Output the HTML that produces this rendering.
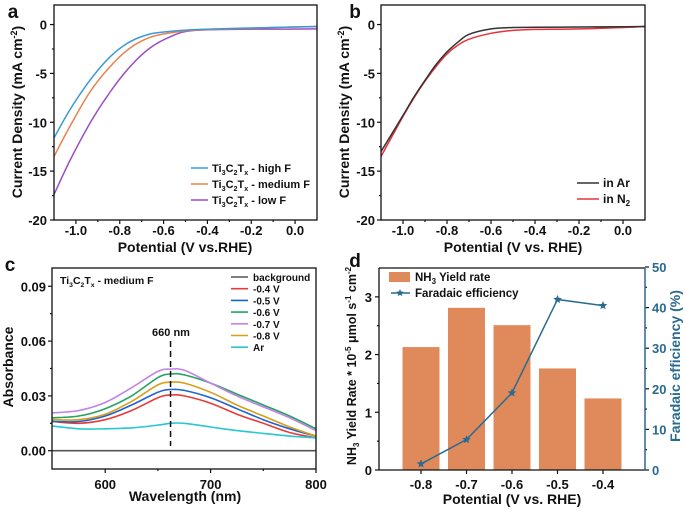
<!DOCTYPE html>
<html><head><meta charset="utf-8"><style>
body{margin:0;background:#fff}
svg{display:block;font-family:"Liberation Sans",Arial,sans-serif;font-weight:bold}
</style></head><body>
<svg id="fig" width="685" height="513" viewBox="0 0 685 513" xmlns="http://www.w3.org/2000/svg"></svg>
<script>
// ---- data panel a ----
const aX=[-1.1,-1.027,-0.936,-0.844,-0.753,-0.662,-0.57,-0.48,-0.3,-0.1,0.1];
const aHigh=[-11.6,-8.7,-5.7,-3.3,-1.76,-0.97,-0.7,-0.55,-0.4,-0.3,-0.2];
const aMed=[-13.5,-10.4,-6.9,-4.3,-2.4,-1.3,-0.85,-0.6,-0.45,-0.3,-0.2];
const aLow=[-17.4,-13.9,-10.1,-6.9,-4.3,-2.4,-1.25,-0.65,-0.5,-0.47,-0.45];
// ---- data panel b ----
const bX=[-1.1,-1.0,-0.95,-0.9,-0.85,-0.8,-0.75,-0.7,-0.6,-0.5,-0.4,-0.2,0.0,0.1];
const bAr=[-13.0,-9.3,-7.4,-5.7,-4.1,-2.8,-1.8,-1.0,-0.45,-0.3,-0.28,-0.25,-0.22,-0.2];
const bN2=[-13.5,-9.4,-7.5,-5.8,-4.3,-3.0,-2.1,-1.5,-0.9,-0.6,-0.5,-0.45,-0.3,-0.2];
// ---- data panel c ----
const cX=[550,575,600,625,650,662,675,700,725,750,775,800];
const cBg=[0,0,0,0,0,0,0,0,0,0,0,0];
const cM04=[0.016,0.015,0.017,0.022,0.029,0.0305,0.030,0.026,0.020,0.015,0.010,0.007];
const cM05=[0.016,0.016,0.019,0.025,0.032,0.0335,0.033,0.029,0.023,0.017,0.012,0.008];
const cM06=[0.018,0.019,0.023,0.030,0.040,0.042,0.0415,0.037,0.031,0.025,0.019,0.012];
const cM07=[0.0207,0.022,0.0264,0.0345,0.0434,0.0446,0.044,0.037,0.030,0.024,0.018,0.011];
const cM08=[0.017,0.017,0.020,0.027,0.036,0.0375,0.037,0.032,0.025,0.019,0.013,0.008];
const cAr=[0.0135,0.012,0.012,0.0125,0.014,0.015,0.015,0.013,0.011,0.0095,0.008,0.007];
// ---- data panel d ----
const dCats=["-0.8","-0.7","-0.6","-0.5","-0.4"];
const dYield=[2.13,2.81,2.51,1.76,1.24];
const dFE=[1.5,7.5,19,42,40.5];

const NS="http://www.w3.org/2000/svg";
const svg=document.getElementById('fig');
function el(tag,attrs,parent,text){const e=document.createElementNS(NS,tag);for(const k in attrs)e.setAttribute(k,attrs[k]);if(text!==undefined)e.textContent=text;(parent||svg).appendChild(e);return e;}
function lin(d0,d1,r0,r1){return v=>r0+(v-d0)/(d1-d0)*(r1-r0);}
function smooth(pts){let d="M"+pts[0][0]+","+pts[0][1];for(let i=0;i<pts.length-1;i++){const p0=pts[i-1]||pts[i],p1=pts[i],p2=pts[i+1],p3=pts[i+2]||p2;const c1=[p1[0]+(p2[0]-p0[0])/6,p1[1]+(p2[1]-p0[1])/6],c2=[p2[0]-(p3[0]-p1[0])/6,p2[1]-(p3[1]-p1[1])/6];d+="C"+c1[0].toFixed(1)+","+c1[1].toFixed(1)+" "+c2[0].toFixed(1)+","+c2[1].toFixed(1)+" "+p2[0].toFixed(1)+","+p2[1].toFixed(1);}return d;}
function frame(x0,y0,x1,y1,name){const r=el('rect',{x:x0,y:y0,width:x1-x0,height:y1-y0,fill:'none',stroke:'#111','stroke-width':1.3});}
function txt(x,y,s,size,anchor,name,extra){const t=el('text',Object.assign({x:x,y:y,'font-size':size,'text-anchor':anchor||'middle',fill:'#111'},extra||{}),svg,s);return t;}
function tick(x1,y1,x2,y2){el('line',{x1:x1,y1:y1,x2:x2,y2:y2,stroke:'#111','stroke-width':1.2});}
function curve(xs,ys,sx,sy,color,name,w){const p=el('path',{d:smooth(xs.map((v,i)=>[sx(v),sy(ys[i])])),fill:'none',stroke:color,'stroke-width':w||1.5});}
function tiLabel(x,y,suffix,size,name){const t=el('text',{x:x,y:y,'font-size':size,fill:'#111'});
 const parts=[["Ti",0],["3",1],["C",0],["2",1],["T",0],["x",1]];
 parts.forEach(p=>{if(p[1]){el('tspan',{'font-size':size*0.65,dy:3},t,p[0]);}else{el('tspan',{'font-size':size,dy:-3},t,p[0]);}});
 t.firstChild.setAttribute('dy',0);
 el('tspan',{'font-size':size,dy:-3},t,suffix);}

// ================= Panel a =================
(function(){
 const X0=54,X1=317,Y0=5,Y1=220;
 const sx=lin(-1.1,0.1,X0,X1),sy=lin(-20,2,Y1,Y0);
 [-1.0,-0.8,-0.6,-0.4,-0.2,0.0].forEach(v=>{tick(sx(v),Y1,sx(v),Y1+4);txt(sx(v),235,v.toFixed(1),13,'middle','x-tick-label-a');});
 [-0.9,-0.7,-0.5,-0.3,-0.1].forEach(v=>tick(sx(v),Y1,sx(v),Y1+2));
 [0,-5,-10,-15,-20].forEach(v=>{tick(X0-4,sy(v),X0,sy(v));txt(X0-7,sy(v)+5,String(v),13,'end','y-tick-label-a');});
 [-2.5,-7.5,-12.5,-17.5].forEach(v=>tick(X0-2,sy(v),X0,sy(v)));
 curve(aX,aLow,sx,sy,'#9b4fc4','series-low-f');
 curve(aX,aMed,sx,sy,'#e8814a','series-medium-f');
 curve(aX,aHigh,sx,sy,'#3a9ad5','series-high-f');
 frame(X0,Y0,X1,Y1,'plot-area-a');
 [['#3a9ad5',168,' - high F'],['#e8814a',184,' - medium F'],['#9b4fc4',200,' - low F']].forEach((l,i)=>{
  const ln=el('line',{x1:191,y1:l[1],x2:208,y2:l[1],stroke:l[0],'stroke-width':1.6});
  tiLabel(212,l[1]+4,l[2],11,'legend-entry-a');});
 txt(185,252,'Potential (V vs.RHE)',14,'middle','x-axis-title-a');
 const yt=txt(0,0,'',14,'middle','y-axis-title-a',{transform:'translate(22,112) rotate(-90)'});
 el('tspan',{},yt,'Current Density (mA cm');el('tspan',{dy:-5,'font-size':9},yt,'-2');el('tspan',{dy:5},yt,')');
 txt(13,18,'a',19,'middle','panel-label-a');
})();

// ================= Panel b =================
(function(){
 const X0=381,X1=645,Y0=5,Y1=220;
 const sx=lin(-1.1,0.1,X0,X1),sy=lin(-20,2,Y1,Y0);
 [-1.0,-0.8,-0.6,-0.4,-0.2,0.0].forEach(v=>{tick(sx(v),Y1,sx(v),Y1+4);txt(sx(v),235,v.toFixed(1),13,'middle','x-tick-label-b');});
 [-0.9,-0.7,-0.5,-0.3,-0.1].forEach(v=>tick(sx(v),Y1,sx(v),Y1+2));
 [0,-5,-10,-15,-20].forEach(v=>{tick(X0-4,sy(v),X0,sy(v));txt(X0-6,sy(v)+5,String(v),13,'end','y-tick-label-b');});
 [-2.5,-7.5,-12.5,-17.5].forEach(v=>tick(X0-2,sy(v),X0,sy(v)));
 curve(bX,bN2,sx,sy,'#e8323a','series-in-n2');
 curve(bX,bAr,sx,sy,'#333333','series-in-ar');
 frame(X0,Y0,X1,Y1,'plot-area-b');
 let l=el('line',{x1:577,y1:183,x2:599,y2:183,stroke:'#333','stroke-width':1.6});
 txt(603,187,'in Ar',12,'start','legend-entry-ar');
 l=el('line',{x1:577,y1:199,x2:599,y2:199,stroke:'#e8323a','stroke-width':1.6});
 const t=txt(603,203,'in N',12,'start','legend-entry-n2');el('tspan',{dy:3,'font-size':8},t,'2');
 txt(513,252,'Potential (V vs. RHE)',14,'middle','x-axis-title-b');
 const yt=txt(0,0,'',14,'middle','y-axis-title-b',{transform:'translate(349,112) rotate(-90)'});
 el('tspan',{},yt,'Current Density (mA cm');el('tspan',{dy:-5,'font-size':9},yt,'-2');el('tspan',{dy:5},yt,')');
 txt(355,18,'b',19,'middle','panel-label-b');
})();

// ================= Panel c =================
(function(){
 const X0=52,X1=316,Y0=268,Y1=469;
 const sx=lin(550,800,52.5,X1),sy=lin(-0.01,0.1,Y1,Y0);
 [600,700,800].forEach(v=>{tick(sx(v),Y1,sx(v),Y1+4);txt(sx(v),489,String(v),13,'middle','x-tick-label-c');});
 [650,750].forEach(v=>tick(sx(v),Y1,sx(v),Y1+2));
 [0,0.03,0.06,0.09].forEach(v=>{tick(X0-4,sy(v),X0,sy(v));txt(X0-6,sy(v)+5,v.toFixed(2),13,'end','y-tick-label-c');});
 [0.015,0.045,0.075].forEach(v=>tick(X0-2,sy(v),X0,sy(v)));
 const series=[[cBg,'#555','series-background'],[cM04,'#e83a3a','series-0.4v'],[cM05,'#1f62d1','series-0.5v'],[cM06,'#2aa160','series-0.6v'],[cM07,'#c084ea','series-0.7v'],[cM08,'#d4a017','series-0.8v'],[cAr,'#27c8d0','series-ar']];
 series.forEach(s=>curve(cX,s[0],sx,sy,s[1],s[2],1.6));
 const dl=el('line',{x1:sx(662),y1:341,x2:sx(662),y2:446,stroke:'#111','stroke-width':1.5,'stroke-dasharray':'6,4'});
 txt(171,336,'660 nm',11,'middle','peak-label');
 frame(X0,Y0,X1,Y1,'plot-area-c');
 tiLabel(60,284,' - medium F',10.5,'panel-title-c');
 const labs=['background','-0.4 V','-0.5 V','-0.6 V','-0.7 V','-0.8 V','Ar'];
 labs.forEach((lb,i)=>{const y=277+i*11.7;const ln=el('line',{x1:231,y1:y,x2:248,y2:y,stroke:series[i][1],'stroke-width':1.6});txt(253,y+4,lb,10,'start','legend-entry-c');});
 txt(185,501,'Wavelength (nm)',14,'middle','x-axis-title-c');
 txt(0,0,'Absorbance',14,'middle','y-axis-title-c',{transform:'translate(13,367) rotate(-90)'});
 txt(10,271,'c',19,'middle','panel-label-c');
})();

// ================= Panel d =================
(function(){
 const X0=379,X1=645,Y0=268,Y1=470;
 const sy=lin(0,3.5,Y1,Y0),sr=lin(0,50,Y1,267);
 const sx=i=>421+i*45.5;
 [0,1,2,3].forEach(v=>{tick(X0-4,sy(v),X0,sy(v));txt(X0-7,sy(v)+5,String(v),13,'end','y-tick-label-d');});
 [0.5,1.5,2.5].forEach(v=>tick(X0-2,sy(v),X0,sy(v)));
 [0,10,20,30,40,50].forEach(v=>{tick(X1,sr(v),X1+4,sr(v));txt(X1+7,sr(v)+5,String(v),13,'start','y2-tick-label-d',{fill:'#2a6a8e'});});
 [5,15,25,35,45].forEach(v=>tick(X1,sr(v),X1+2,sr(v)));
 dCats.forEach((c,i)=>{tick(sx(i),Y1,sx(i),Y1+4);txt(sx(i),489,c,13,'middle','x-tick-label-d');});
 dYield.forEach((v,i)=>{const r=el('rect',{x:sx(i)-18.5,y:sy(v),width:37,height:Y1-sy(v),fill:'#e08a5c'});});
 const pl=el('polyline',{points:dFE.map((v,i)=>sx(i)+','+sr(v)).join(' '),fill:'none',stroke:'#2a6a8e','stroke-width':1.5});
 function star(cx,cy,r,name){let p=[];for(let k=0;k<10;k++){const a=-Math.PI/2+k*Math.PI/5,rr=k%2?r*0.45:r;p.push((cx+rr*Math.cos(a)).toFixed(1)+','+(cy+rr*Math.sin(a)).toFixed(1));}const s=el('polygon',{points:p.join(' '),fill:'#2a6a8e'});}
 dFE.forEach((v,i)=>star(sx(i),sr(v),4.5,'fe-point-'+dCats[i]));
 el('line',{x1:X0,y1:Y0,x2:X1,y2:Y0,stroke:'#111','stroke-width':1.3});
 el('line',{x1:X0,y1:Y1,x2:X1,y2:Y1,stroke:'#111','stroke-width':1.3});
 const la=el('line',{x1:X0,y1:Y0,x2:X0,y2:Y1,stroke:'#111','stroke-width':1.3});
 const ra=el('line',{x1:X1,y1:Y0,x2:X1,y2:Y1,stroke:'#2a6a8e','stroke-width':1.5});
 const lr=el('rect',{x:389,y:272,width:21,height:10,fill:'#e08a5c'});
 const t1=txt(415,281,'NH',11.5,'start','legend-entry-yield');el('tspan',{dy:3,'font-size':8},t1,'3');el('tspan',{dy:-3},t1,' Yield rate');
 const ll=el('line',{x1:391,y1:293,x2:410,y2:293,stroke:'#2a6a8e','stroke-width':1.5});
 star(400,293,4,'legend-star-fe');
 txt(415,297,'Faradaic efficiency',11.5,'start','legend-entry-fe');
 txt(512,504,'Potential (V vs. RHE)',14,'middle','x-axis-title-d');
 const yt=txt(0,0,'',12.5,'middle','y-axis-title-d',{transform:'translate(356,366) rotate(-90)'});
 el('tspan',{},yt,'NH');el('tspan',{dy:3,'font-size':8},yt,'3');el('tspan',{dy:-3},yt,' Yield Rate * 10');el('tspan',{dy:-5,'font-size':8},yt,'-5');el('tspan',{dy:5},yt,' μmol s');el('tspan',{dy:-5,'font-size':8},yt,'-1');el('tspan',{dy:5},yt,' cm');el('tspan',{dy:-5,'font-size':8},yt,'-2');
 txt(0,0,'Faradaic efficiency (%)',14,'middle','y2-axis-title-d',{transform:'translate(680,366) rotate(-90)',fill:'#2a6a8e'});
 txt(355,267,'d',19,'middle','panel-label-d');
})();
</script>
</body></html>
